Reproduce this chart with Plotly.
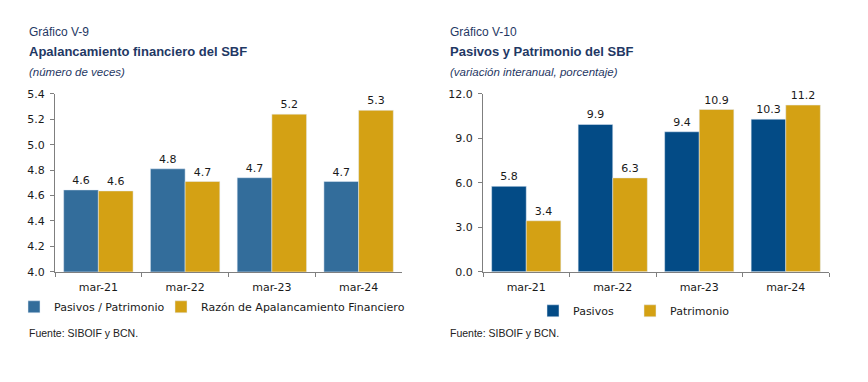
import plotly.graph_objects as go

W, H = 868, 382

categories = ["mar-21", "mar-22", "mar-23", "mar-24"]
pasivos_patrimonio = [4.644, 4.81, 4.74, 4.71]
razon_apalancamiento = [4.636, 4.71, 5.24, 5.27]
pasivos = [5.76, 9.93, 9.44, 10.29]
patrimonio = [3.44, 6.33, 10.94, 11.24]

left_y_ticks = [4.0, 4.2, 4.4, 4.6, 4.8, 5.0, 5.2, 5.4]
right_y_ticks = [0.0, 3.0, 6.0, 9.0, 12.0]

C_BLUE_L = "#336d9b"
C_GOLD = "#d4a114"
C_BLUE_R = "#034b86"
C_TITLE = "#1f3864"
C_TEXT = "#1a1a1a"
C_AXIS = "#7f7f7f"

FONT_V = "DejaVu Sans"
FONT_A = "Liberation Sans, Arial"

def px(x):
    return x / W

def py(y):
    # empirical vertical correction for the capture
    yy = (y - 6.2) / 0.966
    return 1 - yy / H

fig = go.Figure()

def bar(xs, ys, name, color, xa, ya, leg):
    fig.add_trace(go.Bar(x=xs, y=ys, name=name, marker=dict(color=color),
                         xaxis=xa, yaxis=ya, legend=leg,
                         texttemplate="%{y:.1f}", textposition="outside",
                         cliponaxis=False,
                         textfont=dict(family=FONT_V, size=11, color=C_TEXT)))

bar(categories, pasivos_patrimonio, "Pasivos / Patrimonio", C_BLUE_L, "x", "y", "legend")
bar(categories, razon_apalancamiento, "Razón de Apalancamiento Financiero", C_GOLD, "x", "y", "legend2")
bar(categories, pasivos, "Pasivos", C_BLUE_R, "x2", "y2", "legend3")
bar(categories, patrimonio, "Patrimonio", C_GOLD, "x2", "y2", "legend4")

xcommon = dict(showline=True, linecolor=C_AXIS, linewidth=1, ticks="outside", ticklen=4,
               tickcolor=C_AXIS, tickson="boundaries", showgrid=False, ticklabelstandoff=5,
               tickfont=dict(family=FONT_V, size=11, color=C_TEXT), fixedrange=True)
ycommon = dict(showline=True, linecolor=C_AXIS, linewidth=1, ticks="outside", ticklen=4,
               tickcolor=C_AXIS, showgrid=False, zeroline=False, tickformat=".1f",
               ticklabelstandoff=3,
               tickfont=dict(family=FONT_V, size=11, color=C_TEXT), fixedrange=True)

ydom = [py(272), py(94)]

def leg(x, y):
    return dict(orientation="h", x=px(x), y=py(y), xanchor="left", yanchor="middle",
                font=dict(family=FONT_V, size=11, color=C_TEXT), itemwidth=30,
                bgcolor="rgba(0,0,0,0)", itemclick=False, itemdoubleclick=False)

fig.update_layout(
    width=W, height=H,
    margin=dict(l=0, r=0, t=0, b=0),
    paper_bgcolor="white", plot_bgcolor="white",
    barmode="group", bargap=0.2, bargroupgap=0.0,
    xaxis=dict(domain=[px(55), px(402)], anchor="y", **xcommon),
    yaxis=dict(domain=ydom, anchor="x", range=[4.0, 5.4], tickvals=left_y_ticks, **ycommon),
    xaxis2=dict(domain=[px(483), px(829)], anchor="y2", **xcommon),
    yaxis2=dict(domain=ydom, anchor="x2", range=[0, 12], tickvals=right_y_ticks, **ycommon),
    legend=leg(14, 307),
    legend2=leg(161, 307),
    legend3=leg(533, 311),
    legend4=leg(630, 311),
    showlegend=True,
)

def note(x, y, text, size=12, bold=False, italic=False, color=C_TITLE):
    t = text
    if bold:
        t = "<b>" + t + "</b>"
    if italic:
        t = "<i>" + t + "</i>"
    fig.add_annotation(x=px(x), y=py(y), xref="paper", yref="paper", text=t,
                       showarrow=False, xanchor="left", yanchor="middle",
                       font=dict(family=FONT_A, size=size, color=color))

note(27, 32, "Gráfico V-9", size=12)
note(27, 52, "Apalancamiento financiero del SBF", size=13, bold=True)
note(27, 72, "(número de veces)", size=11.5, italic=True)
note(27, 333, "Fuente: SIBOIF y BCN.", size=10.5, color="#222222")

note(448, 32, "Gráfico V-10", size=12)
note(448, 52, "Pasivos y Patrimonio del SBF", size=13, bold=True)
note(448, 72, "(variación interanual, porcentaje)", size=11.5, italic=True)
note(448, 333, "Fuente: SIBOIF y BCN.", size=10.5, color="#222222")

fig.write_html("out.html", config={"displayModeBar": False},
               post_script="document.body.style.margin='0px';")
